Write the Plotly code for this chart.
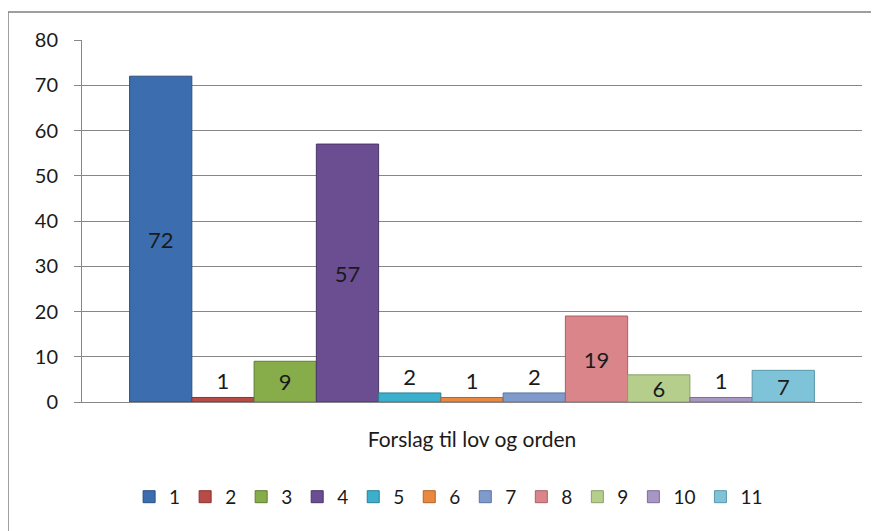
import plotly.graph_objects as go

# data
kategori = "Forslag til lov og orden"
serier = ["1", "2", "3", "4", "5", "6", "7", "8", "9", "10", "11"]
verdier = [72, 1, 9, 57, 2, 1, 2, 19, 6, 1, 7]
farger = ["#3C6DAE", "#B84A47", "#86AD4A", "#6A4E91", "#3BAFCB", "#E9883E",
          "#7F9ACB", "#D9858A", "#B5CE8C", "#A896C4", "#7EC3D8"]
kanter = ["#2B5080", "#8A3432", "#5F7D33", "#4A3568", "#2A7F95", "#B0642A",
          "#5A74A0", "#A86066", "#8AA068", "#7D6D99", "#5A98AB"]
y_ticks = [0, 10, 20, 30, 40, 50, 60, 70, 80]

grid = "#878787"
tekst = "#1A1A1A"
font = "Lato"

fig = go.Figure()
for navn, v, f, k in zip(serier, verdier, farger, kanter):
    fig.add_trace(go.Bar(
        x=[kategori], y=[v], name=navn,
        marker=dict(color=f, line=dict(color=k, width=1)),
        text=[str(v)],
        textposition="inside" if v >= 5 else "outside",
        insidetextanchor="middle",
        constraintext="none",
        textangle=0,
        textfont=dict(size=22, color=tekst, family=font),
        cliponaxis=False,
    ))

# siden har 8px marg i body, så alt er flyttet 8px mot venstre/opp
fig.update_layout(
    width=879, height=531,
    margin=dict(l=74, r=25, t=32, b=137),
    paper_bgcolor="white", plot_bgcolor="white",
    barmode="group", bargap=0.122, bargroupgap=0,
    font=dict(family=font, size=20, color=tekst),
    showlegend=True,
    legend=dict(orientation="h", x=0.47, xanchor="center", y=-0.262, yanchor="middle",
                font=dict(size=19, family=font, color=tekst), itemwidth=30,
                traceorder="normal"),
    # ytre ramme rundt diagrammet
    shapes=[dict(type="rect", xref="paper", yref="paper",
                 x0=-0.0949, y0=-0.6, x1=1.2, y1=1.0773,
                 line=dict(color="#7F7F7F", width=1.5), layer="below")],
)

fig.update_yaxes(range=[0, 80], tickvals=y_ticks, showgrid=True, gridcolor=grid, gridwidth=1,
                 showline=True, linecolor=grid, ticks="outside", ticklen=7, tickcolor=grid,
                 tickfont=dict(size=20, family=font, color=tekst), zeroline=False,
                 ticklabelstandoff=12, automargin=False)
fig.update_xaxes(showline=True, linecolor=grid, linewidth=1, ticks="",
                 tickfont=dict(size=21, family=font, color=tekst), ticklabelstandoff=19,
                 automargin=False)

fig.write_html("out.html")
